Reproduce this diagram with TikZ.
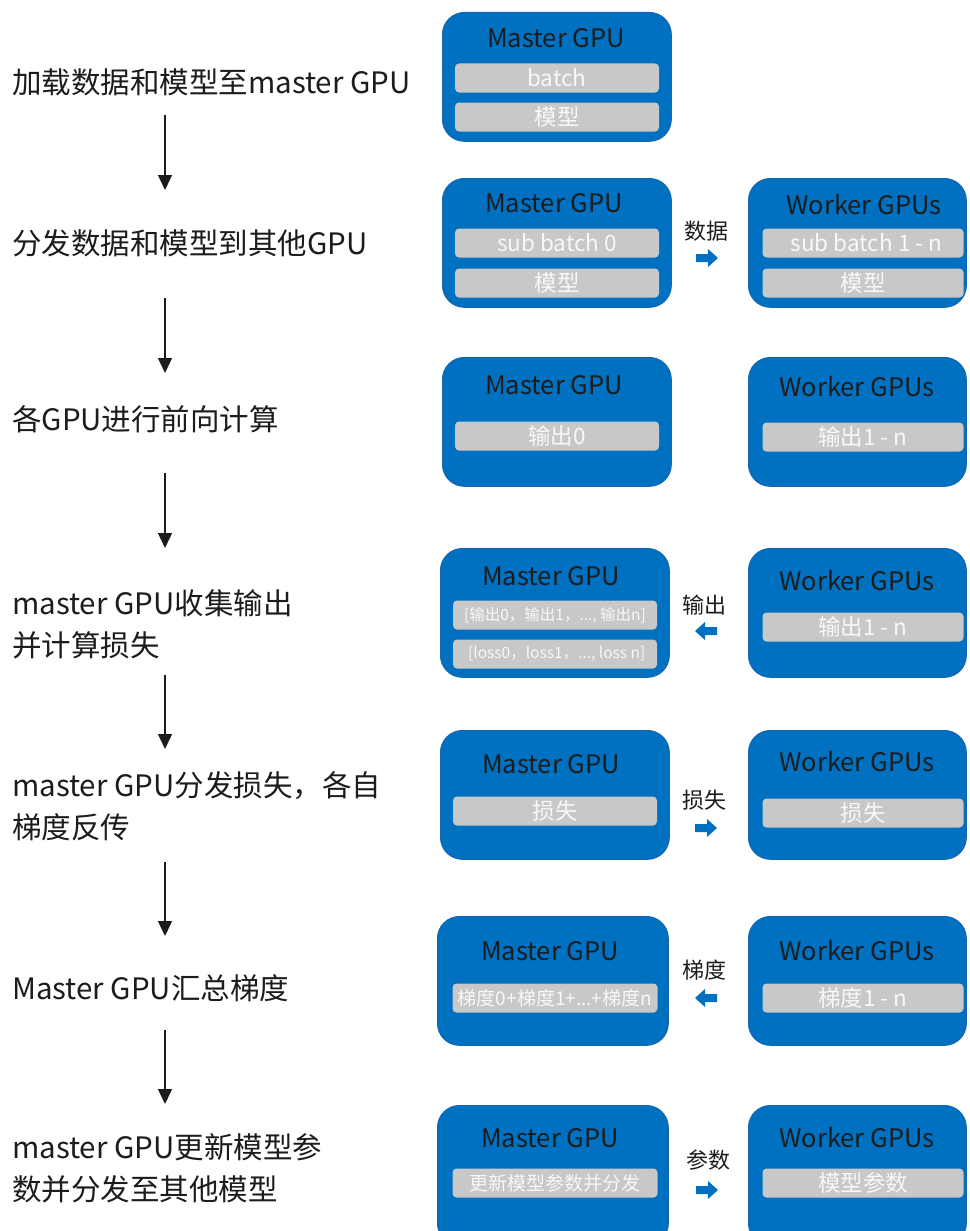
\documentclass[tikz,border=0pt]{standalone}
\usepackage{fontspec}
\setmainfont{Noto Sans CJK SC}
\usetikzlibrary{arrows.meta}
\definecolor{gpublue}{RGB}{0,112,192}
\definecolor{gpuedge}{RGB}{20,100,175}
\definecolor{bargray}{RGB}{200,200,200}
\definecolor{bartext}{RGB}{248,248,248}
\definecolor{ink}{RGB}{28,28,28}
\tikzset{
  gpubox/.style={fill=gpublue, draw=gpuedge, line width=0.8pt, rounded corners=22pt, anchor=north west, inner sep=0pt},
  mbox/.style={gpubox, minimum width=229pt, minimum height=129pt},
  wbox/.style={gpubox, minimum width=218pt, minimum height=129pt},
  gputitle/.style={font=\fontsize{25.5}{29}\selectfont, text=ink, inner sep=0pt},
  bar/.style={fill=bargray, rounded corners=4pt, inner sep=0pt, minimum height=29pt, text=bartext, font=\fontsize{22.5}{25}\selectfont},
  mbar/.style={bar, minimum width=204pt},
  wbar/.style={bar, minimum width=201pt},
  steplabel/.style={anchor=west, inner sep=0pt, align=left, text=ink, font=\fontsize{29.5}{42}\selectfont},
  flow/.style={draw=ink, line width=1.4pt, -{Triangle[width=14pt,length=15pt]}},
  bluearrow/.pic={\fill[gpublue] (-11,-4) -- (1,-4) -- (1,-9) -- (11,0) -- (1,9) -- (1,4) -- (-11,4) -- cycle;},
  xlabel/.style={inner sep=0pt, text=ink, font=\fontsize{22}{26}\selectfont}
}
\begin{document}
\begin{tikzpicture}[x=1pt,y=-1pt]
\useasboundingbox (0,0) rectangle (969,1231);
\fill[white] (0,0) rectangle (969,1231);

% ---------- left step labels ----------
\node[steplabel] (s1) at (12,82) {加载数据和模型至master GPU};
\node[steplabel] (s2) at (12,243) {分发数据和模型到其他GPU};
\node[steplabel] (s3) at (12,419) {各GPU进行前向计算};
\node[steplabel] (s4) at (12,624) {master GPU收集输出\\并计算损失};
\node[steplabel] (s5) at (12,806) {master GPU分发损失，各自\\梯度反传};
\node[steplabel] (s6) at (12,988) {Master GPU汇总梯度};
\node[steplabel] (s7) at (12,1168) {master GPU更新模型参\\数并分发至其他模型};

\coordinate (a1s) at (165,115); \coordinate (a1e) at (165,190);
\coordinate (a2s) at (165,298); \coordinate (a2e) at (165,373);
\coordinate (a3s) at (165,473); \coordinate (a3e) at (165,548);
\coordinate (a4s) at (165,675); \coordinate (a4e) at (165,749);
\coordinate (a5s) at (165,862); \coordinate (a5e) at (165,936);
\coordinate (a6s) at (165,1030); \coordinate (a6e) at (165,1104);
\draw[flow] (a1s) -- (a1e);
\draw[flow] (a2s) -- (a2e);
\draw[flow] (a3s) -- (a3e);
\draw[flow] (a4s) -- (a4e);
\draw[flow] (a5s) -- (a5e);
\draw[flow] (a6s) -- (a6e);

% ---------- row 1 ----------
\node[mbox] (m1) at (442,12) {};
\node[gputitle] (m1t) at (556,38) {Master GPU};
\node[mbar] (m1a) at (557,78) {batch};
\node[mbar] (m1b) at (557,117) {模型};

% ---------- row 2 ----------
\node[mbox] (m2) at (442,178) {};
\node[gputitle] (m2t) at (554,203) {Master GPU};
\node[mbar] (m2a) at (557,243) {sub batch 0};
\node[mbar] (m2b) at (557,283) {模型};
\node[wbox] (w2) at (748,178) {};
\node[gputitle] (w2t) at (864,205) {Worker GPUs};
\node[wbar] (w2a) at (863,243) {\hspace{7pt}sub batch 1 - n};
\node[wbar] (w2b) at (863,283) {模型};
\node[xlabel] (l2) at (706,231) {数据};
\pic (x2) at (707,258) {bluearrow};

% ---------- row 3 ----------
\node[mbox] (m3) at (442,357) {};
\node[gputitle] (m3t) at (554,385) {Master GPU};
\node[mbar] (m3a) at (557,436) {输出0};
\node[wbox] (w3) at (748,357) {};
\node[gputitle] (w3t) at (857,387) {Worker GPUs};
\node[wbar] (w3a) at (863,437) {输出1 - n};

% ---------- row 4 ----------
\node[mbox] (m4) at (440,548) {};
\node[gputitle] (m4t) at (551,576) {Master GPU};
\node[mbar, font=\fontsize{15.5}{18}\selectfont] (m4a) at (555,615) {[输出0，输出1，..., 输出n]};
\node[mbar, font=\fontsize{15.5}{18}\selectfont] (m4b) at (555,654) {\ [loss0，loss1，..., loss n]};
\node[wbox] (w4) at (748,548) {};
\node[gputitle] (w4t) at (857,581) {Worker GPUs};
\node[wbar] (w4a) at (863,627) {输出1 - n};
\node[xlabel] (l4) at (704,605) {输出};
\pic[rotate=180] (x4) at (706,631) {bluearrow};

% ---------- row 5 ----------
\node[mbox] (m5) at (440,730) {};
\node[gputitle] (m5t) at (551,764) {Master GPU};
\node[mbar] (m5a) at (555,811) {损失};
\node[wbox] (w5) at (748,730) {};
\node[gputitle] (w5t) at (857,762) {Worker GPUs};
\node[wbar] (w5a) at (863,813) {损失};
\node[xlabel] (l5) at (704,800) {损失};
\pic (x5) at (706,828) {bluearrow};

% ---------- row 6 ----------
\node[mbox, minimum width=231pt] (m6) at (437,916) {};
\node[gputitle] (m6t) at (550,951) {Master GPU};
\node[mbar, minimum width=205pt, font=\fontsize{19}{22}\selectfont] (m6a) at (555,998) {梯度0+梯度1+...+梯度n};
\node[wbox] (w6) at (748,916) {};
\node[gputitle] (w6t) at (857,951) {Worker GPUs};
\node[wbar] (w6a) at (863,998) {梯度1 - n};
\node[xlabel] (l6) at (704,970) {梯度};
\pic[rotate=180] (x6) at (706,998) {bluearrow};

% ---------- row 7 ----------
\node[mbox, minimum width=231pt, minimum height=140pt] (m7) at (437,1105) {};
\node[gputitle] (m7t) at (550,1138) {Master GPU};
\node[mbar, minimum width=205pt, font=\fontsize{19}{22}\selectfont] (m7a) at (555,1183) {更新模型参数并分发};
\node[wbox, minimum height=140pt] (w7) at (748,1105) {};
\node[gputitle] (w7t) at (857,1138) {Worker GPUs};
\node[wbar] (w7a) at (863,1183) {模型参数};
\node[xlabel] (l7) at (708,1160) {参数};
\pic (x7) at (707,1190) {bluearrow};
\end{tikzpicture}
\end{document}
